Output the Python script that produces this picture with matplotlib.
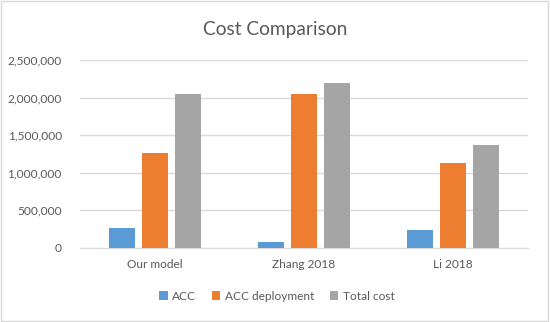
import matplotlib
matplotlib.use("Agg")
import matplotlib.pyplot as plt
import numpy as np
from matplotlib.ticker import FuncFormatter
from matplotlib.patches import Rectangle

categories = ["Our model", "Zhang 2018", "Li 2018"]
series_names = ["ACC", "ACC deployment", "Total cost"]
acc = [262000, 76000, 240000]
acc_deploy = [1260000, 2050000, 1127000]
total_cost = [2050000, 2190000, 1370000]
colors = ["#5B9BD5", "#ED7D31", "#A5A5A5"]
yticks = [0, 500000, 1000000, 1500000, 2000000, 2500000]

plt.rcParams['font.family'] = ['Lato', 'DejaVu Sans']
txt = "#595959"

fig = plt.figure(figsize=(5.5, 3.22), dpi=100)
ax = fig.add_axes([80/550, 1-248/322, 448/550, (248-60)/322])

x = np.arange(len(categories))
w = 0.174
step = 0.221
for i, (vals, name) in enumerate(zip([acc, acc_deploy, total_cost], series_names)):
    ax.bar(x + (i - 1) * step, vals, width=w, color=colors[i], label=name, zorder=3)

ax.set_xlim(-0.5, 2.5)
ax.set_ylim(0, 2500000)
ax.set_yticks(yticks)
ax.yaxis.set_major_formatter(FuncFormatter(lambda v, p: f"{int(v):,}"))
ax.set_xticks(x)
ax.set_xticklabels(categories)
ax.grid(axis='y', color="#D9D9D9", linewidth=1, zorder=0)
for s in ["top", "right", "left"]:
    ax.spines[s].set_visible(False)
ax.spines["bottom"].set_color("#D9D9D9")
ax.tick_params(axis='both', length=0, labelsize=8.6, colors=txt)
ax.tick_params(axis='y', pad=13)
ax.tick_params(axis='x', pad=8)

fig.text(275/550, 1-30/322, "Cost Comparison", ha='center', va='center', fontsize=13.8, color=txt)
leg = fig.legend(loc='center', bbox_to_anchor=(277/550, 1-296/322), ncol=3, frameon=False,
                 fontsize=8.6, handlelength=0.7, handleheight=0.7, columnspacing=1.3, handletextpad=0.4)
for t in leg.get_texts():
    t.set_color(txt)

fig.patches.append(Rectangle((0.002, 0.003), 0.994, 0.994, transform=fig.transFigure,
                             fill=False, edgecolor="#D9D9D9", linewidth=1))
fig.savefig("out.png", dpi=100, facecolor="white")
